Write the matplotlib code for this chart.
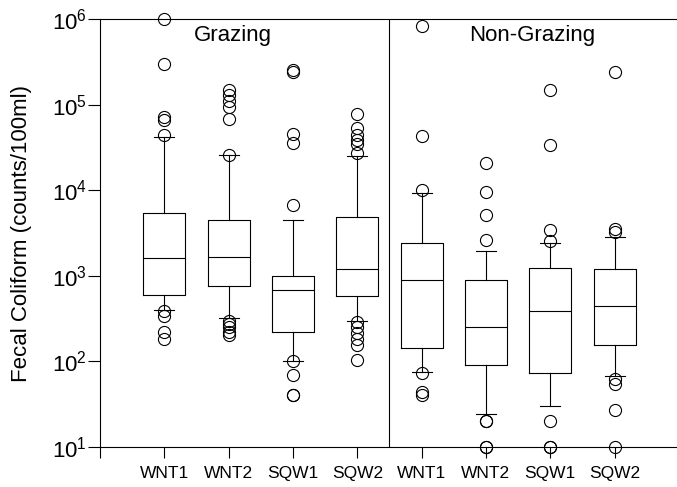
import matplotlib
matplotlib.use("Agg")
import matplotlib.pyplot as plt
import numpy as np

plt.rcParams["font.family"] = ["Liberation Sans", "DejaVu Sans"]

## Values (counts/100ml)
labels = ["WNT1", "WNT2", "SQW1", "SQW2", "WNT1", "WNT2", "SQW1", "SQW2"]
q1 = [590, 760, 220, 580, 144, 90, 74, 156]
medians = [1600, 1650, 675, 1200, 890, 253, 383, 442]
q3 = [5400, 4450, 990, 4800, 2430, 905, 1250, 1205]
whislo = [400, 320, 100, 300, 75, 24, 30, 67]
whishi = [42000, 25700, 4500, 25000, 9400, 1960, 2390, 2850]
fliers = [
    [1000000, 300000, 72000, 66000, 44000, 385, 340, 220, 185],
    [150000, 129000, 111000, 94000, 68000, 26000, 300, 275, 250, 222, 205],
    [255000, 240000, 45000, 36000, 6700, 100, 70, 40, 40],
    [77000, 54000, 44000, 38500, 34500, 27000, 290, 250, 215, 185, 155, 103],
    [830000, 43000, 10000, 74, 44, 40],
    [21000, 9600, 5100, 2600, 20, 20, 10, 10],
    [150000, 34000, 3450, 2550, 20, 10, 10],
    [238000, 3500, 3250, 63, 54, 27, 10],
]
groups = ["Grazing", "Non-Grazing"]

stats = []
for i in range(len(labels)):
    stats.append(dict(q1=q1[i], med=medians[i], q3=q3[i],
                      whislo=whislo[i], whishi=whishi[i], fliers=fliers[i]))

fig = plt.figure(figsize=(6.77, 4.87), dpi=100)
ax = fig.add_axes([0.1477, 0.0821, 0.8523, 0.8789])

pos = np.arange(1, len(labels) + 1)
lw = 0.8
res = ax.bxp(stats, positions=pos, widths=0.65, capwidths=0.31,
             boxprops=dict(color="black", linewidth=lw),
             medianprops=dict(color="black", linewidth=lw),
             whiskerprops=dict(color="black", linewidth=lw),
             capprops=dict(color="black", linewidth=lw),
             flierprops=dict(marker="o", markersize=8.7, markerfacecolor="none",
                             markeredgecolor="black", markeredgewidth=0.8))
for f in res["fliers"]:
    f.set_clip_on(False)

ax.set_yscale("log")
ax.set_ylim(10, 1e6)
ax.set_xlim(0, 8.97)
ax.minorticks_off()
ax.set_yticks([1e1, 1e2, 1e3, 1e4, 1e5, 1e6])

# separator between the two groups
ax.axvline(4.5, color="black", linewidth=lw)

ax.set_xticks(np.arange(0, len(labels) + 1))
ax.set_xticklabels([""] + labels)
ax.tick_params(axis="x", direction="out", length=8, width=lw, labelsize=12.5, pad=6)
ax.tick_params(axis="y", direction="out", length=8.6, width=lw, labelsize=16, pad=1)

ax.spines["right"].set_visible(False)
for s in ["left", "bottom", "top"]:
    ax.spines[s].set_linewidth(lw)

ax.set_ylabel("Fecal Coliform (counts/100ml)", fontsize=16, labelpad=14)

ax.text(2.06, 6.4e5, groups[0], ha="center", va="center", fontsize=16)
ax.text(6.72, 6.4e5, groups[1], ha="center", va="center", fontsize=16)

fig.savefig("out.png", dpi=100)
